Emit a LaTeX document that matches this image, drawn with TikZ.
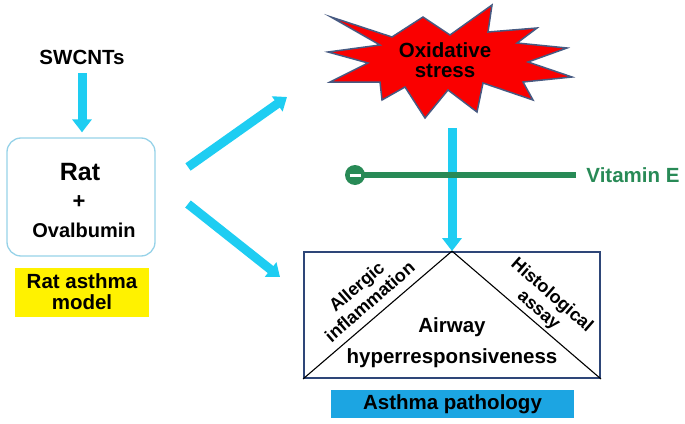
\documentclass[tikz,border=0pt]{standalone}
\usepackage{fontspec}
\setmainfont{Liberation Sans}
\usetikzlibrary{arrows.meta,calc}
\definecolor{arrcyan}{RGB}{30,205,242}
\definecolor{boxblue}{RGB}{150,210,232}
\definecolor{rectblue}{RGB}{46,70,120}
\definecolor{skyb}{RGB}{28,165,226}
\definecolor{vgreen}{RGB}{40,138,86}
\definecolor{starred}{RGB}{250,0,0}
\definecolor{starline}{RGB}{70,90,130}
\begin{document}
\begin{tikzpicture}[x=1pt,y=-1pt,
  lbl/.style={font=\fontsize{20.5}{22}\selectfont\bfseries, align=center, inner sep=0pt},
  rotlbl/.style={font=\fontsize{18}{20}\selectfont\bfseries, align=center, inner sep=0pt},
  carrow/.style={draw=arrcyan, line width=9pt, -{Triangle[width=19pt,length=13pt]}},
  darrow/.style={draw=arrcyan, line width=9pt, -{Triangle[width=18pt,length=12pt]}}]
\useasboundingbox (0,0) rectangle (685,423);

% left part
\node[lbl] (sw) at (82,57) {SWCNTs};
\node[draw=boxblue, rounded corners=14pt, line width=1.3pt, minimum width=148pt, minimum height=118pt, inner sep=0pt] (rat) at (81,197) {};
\node[font=\fontsize{25}{27}\selectfont\bfseries, inner sep=0pt] (ratt) at (80,172) {Rat};
\node[font=\fontsize{22}{24}\selectfont\bfseries, inner sep=0pt] (plus) at (79,202) {+};
\node[font=\fontsize{20}{22}\selectfont\bfseries, inner sep=0pt] (ova) at (84,230) {Ovalbumin};
\node[fill=yellow, minimum width=134pt, minimum height=49pt, font=\fontsize{20.5}{21}\selectfont\bfseries, align=center, inner sep=0pt] (ram) at (82,292) {Rat asthma\\model};

\draw[carrow] ([yshift=-9pt]sw.south) -- ([yshift=5pt]sw.south |- rat.north);

% diagonal arrows
\coordinate (d1s) at (188,167);
\coordinate (d1e) at (287,97);
\coordinate (d2s) at (188,204);
\coordinate (d2e) at (280,277);
\draw[darrow] (d1s) -- (d1e);
\draw[darrow] (d2s) -- (d2e);

% oxidative stress star
\draw[fill=starred, draw=starline, line width=1.5pt, line join=miter]
  (331,17) -- (392,37) -- (423,17) -- (450,35) -- (492,5) -- (488,32) -- (537,28) -- (517,43)
  -- (567,48) -- (528,62) -- (572,77) -- (523,82) -- (533,100) -- (483,83) -- (477,112)
  -- (448,90) -- (425,118) -- (405,87) -- (382,100) -- (380,82) -- (330,82) -- (368,63)
  -- (328,52) -- (380,45) -- cycle;
\node[lbl, font=\fontsize{20.5}{20}\selectfont\bfseries] (ox) at (445,60) {Oxidative\\stress};

% pathology box
\node[draw=rectblue, line width=1.8pt, minimum width=296pt, minimum height=126pt, inner sep=0pt] (patho) at (452,315) {};
\draw[black, line width=1.1pt] (patho.south west) -- (patho.north) -- (patho.south east);
\node[lbl] (air) at (452,327) {Airway};
\node[lbl] (hyp) at (452,358) {hyperresponsiveness};
\node[rotlbl, rotate=41] (all) at (363,294) {Allergic\\inflammation};
\node[rotlbl, rotate=-41] (his) at (545,303) {Histological\\assay};
\node[fill=skyb, minimum width=243pt, minimum height=28pt, lbl] (ap) at (452.5,404) {Asthma pathology};

% vertical arrow
\coordinate (vs) at (452,128);
\draw[carrow] (vs) -- (patho.north);

% vitamin E inhibition
\node[lbl, text=vgreen] (vit) at (633,175) {Vitamin E};
\node[circle, fill=vgreen, minimum size=20pt, inner sep=0pt] (inh) at (355,175) {};
\draw[vgreen, line width=6pt] (inh.center) -- ([xshift=-10pt]vit.west);
\draw[white, line width=3pt] ([xshift=-5.5pt]inh.center) -- ([xshift=5.5pt]inh.center);
\end{tikzpicture}
\end{document}
